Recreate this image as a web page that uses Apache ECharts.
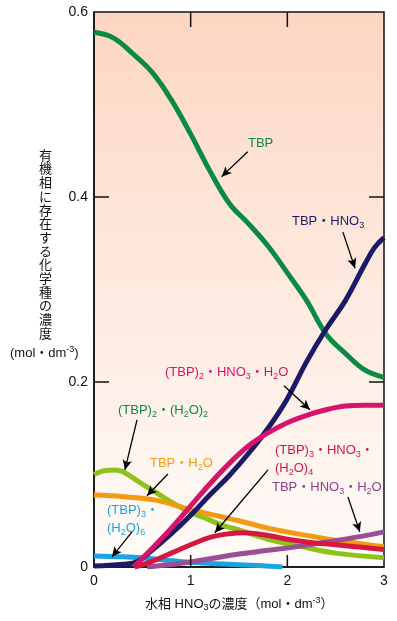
<!DOCTYPE html>
<html>
<head>
<meta charset="utf-8">
<script src="https://cdn.jsdelivr.net/npm/echarts@6/dist/echarts.min.js"></script>
<style>
  html, body { margin: 0; padding: 0; background: #fff; }
  #chart { width: 397px; height: 621px; }
</style>
</head>
<body>
<div id="chart"></div>
<script>
// 水相 HNO3 濃度 (mol/dm3) に対する各化学種の濃度 [x, y]
var tbp = [[0, 0.578], [0.2, 0.572], [0.4, 0.555], [0.6, 0.535], [0.8, 0.505], [1.0, 0.468], [1.2, 0.428], [1.4, 0.393], [1.6, 0.371], [1.8, 0.347], [2.0, 0.318], [2.2, 0.288], [2.4, 0.252], [2.6, 0.231], [2.8, 0.213], [3.0, 0.205]];
var tbp2H2o2 = [[0, 0.100], [0.1, 0.104], [0.22, 0.105], [0.3, 0.103], [0.48, 0.091], [0.65, 0.080], [0.82, 0.069], [1.0, 0.059], [1.17, 0.052], [1.33, 0.045], [1.5, 0.040], [1.8, 0.030], [2.15, 0.022], [2.5, 0.015], [3.0, 0.010]];
var tbpH2o = [[0, 0.078], [0.3, 0.076], [0.65, 0.072], [1.0, 0.062], [1.33, 0.054], [1.5, 0.050], [1.8, 0.042], [2.15, 0.035], [2.5, 0.029], [3.0, 0.022]];
var tbp3H2o6 = [[0, 0.012], [0.3, 0.011], [0.6, 0.009], [1.0, 0.005], [1.4, 0.003], [1.7, 0.0015], [1.95, 0]];
var tbpHno3H2o = [[0.55, 0], [0.9, 0.004], [1.2, 0.009], [1.5, 0.014], [1.8, 0.018], [2.1, 0.022], [2.4, 0.027], [2.7, 0.032], [3.0, 0.038]];
var tbpHno3 = [[0, 0.001], [0.3, 0.003], [0.45, 0.006], [0.6, 0.018], [0.8, 0.036], [1.0, 0.056], [1.2, 0.078], [1.4, 0.099], [1.6, 0.123], [1.8, 0.150], [2.0, 0.182], [2.2, 0.222], [2.4, 0.257], [2.6, 0.288], [2.8, 0.327], [2.9, 0.345], [3.0, 0.356]];
var tbp2Hno3H2o = [[0.41, 0], [0.6, 0.02], [0.8, 0.042], [1.0, 0.066], [1.2, 0.09], [1.4, 0.112], [1.6, 0.131], [1.8, 0.145], [2.0, 0.156], [2.2, 0.164], [2.4, 0.170], [2.6, 0.174], [2.8, 0.175], [3.0, 0.175]];
var tbp3Hno3H2o4 = [[0.42, 0], [0.6, 0.006], [0.8, 0.015], [1.0, 0.024], [1.2, 0.032], [1.4, 0.036], [1.55, 0.037], [1.8, 0.034], [2.0, 0.030], [2.2, 0.027], [2.5, 0.024], [2.8, 0.021], [3.0, 0.019]];

var xTicks = [0, 1, 2, 3];
var yTicks = [0, 0.2, 0.4, 0.6];

// 矢印 (始点, 終点) データ座標
var arrows = [
    [[1.59, 0.449], [1.32, 0.422]],
    [[2.575, 0.362], [2.70, 0.323]],
    [[1.965, 0.196], [2.234, 0.170]],
    [[0.445, 0.159], [0.32, 0.105]],
    [[0.765, 0.1005], [0.548, 0.077]],
    [[0.393, 0.038], [0.186, 0.011]],
    [[1.80, 0.105], [1.25, 0.037]],
    [[2.627, 0.0757], [2.75, 0.038]]
];

var FONT = '"Liberation Sans", "Noto Sans CJK JP", sans-serif';
var chart = echarts.init(document.getElementById('chart'));

function lineSeries(data, color) {
    return {
        type: 'line',
        data: data,
        smooth: 0.4,
        showSymbol: false,
        clip: true,
        z: 3,
        lineStyle: { color: color, width: 5 },
        silent: true
    };
}

var rich = {
    s: { fontSize: 9, lineHeight: 9, verticalAlign: 'bottom', fontFamily: FONT },
    p: { fontSize: 9, lineHeight: 9, verticalAlign: 'top', fontFamily: FONT }
};

function label(text, color, x, y, lh) {
    return {
        type: 'text',
        left: x,
        top: y,
        style: {
            text: text,
            fill: color,
            font: '13px ' + FONT,
            lineHeight: lh || 17,
            rich: rich
        },
        z: 100
    };
}

// 四辺の内向き目盛: [x, y, 向き] 0=下 1=上 2=左 3=右
var tickData = [];
xTicks.slice(1, -1).forEach(function (v) {
    tickData.push([v, yTicks[0], 0]);
    tickData.push([v, yTicks[yTicks.length - 1], 1]);
});
yTicks.slice(1, -1).forEach(function (v) {
    tickData.push([xTicks[0], v, 2]);
    tickData.push([xTicks[xTicks.length - 1], v, 3]);
});

var series = [
    lineSeries(tbp, '#0b8a43'),
    lineSeries(tbp2H2o2, '#8cc21a'),
    lineSeries(tbpH2o, '#f39a12'),
    lineSeries(tbp3H2o6, '#1aa5e0'),
    lineSeries(tbpHno3H2o, '#9a4e96'),
    lineSeries(tbpHno3, '#1c1a66'),
    lineSeries(tbp2Hno3H2o, '#d6146a'),
    lineSeries(tbp3Hno3H2o4, '#d6173f'),
    {
        type: 'line',
        data: [],
        silent: true,
        z: 6,
        markLine: {
            silent: true,
            symbol: ['none', 'arrow'],
            symbolSize: [7, 10],
            label: { show: false },
            lineStyle: { color: '#000', width: 1.3, type: 'solid' },
            data: arrows.map(function (a) {
                return [{ coord: a[0] }, { coord: a[1] }];
            })
        }
    },
    {
        type: 'custom',
        data: tickData,
        silent: true,
        clip: false,
        z: 10,
        encode: { x: 0, y: 1 },
        renderItem: function (params, api) {
            var p = api.coord([api.value(0), api.value(1)]);
            var dir = api.value(2);
            var dx = 0, dy = 0;
            if (dir === 0) dy = -12;
            else if (dir === 1) dy = 15;
            else if (dir === 2) dx = 15;
            else dx = -15;
            return {
                type: 'line',
                shape: { x1: p[0], y1: p[1], x2: p[0] + dx, y2: p[1] + dy },
                style: { stroke: '#111', lineWidth: 1.5 }
            };
        }
    }
];

var yTitleChars = '有機相に存在する化学種の濃度'.split('').join('\n');

var option = {
    animation: false,
    backgroundColor: '#fff',
    grid: {
        left: 94, top: 12, right: 13, bottom: 54,
        show: true,
        borderWidth: 1.5,
        borderColor: '#111',
        backgroundColor: new echarts.graphic.LinearGradient(0, 0, 0, 1, [
            { offset: 0, color: '#fdd6c2' },
            { offset: 0.45, color: '#fee8dd' },
            { offset: 1, color: '#fffbf8' }
        ])
    },
    xAxis: {
        type: 'value', min: 0, max: 3, interval: 1,
        axisLine: { show: true, onZero: false, lineStyle: { color: '#111', width: 1.5 } },
        axisTick: { show: false },
        splitLine: { show: false },
        axisLabel: { color: '#111', fontSize: 14, fontFamily: FONT, margin: 7 }
    },
    yAxis: {
        type: 'value', min: 0, max: 0.6, interval: 0.2,
        axisLine: { show: true, onZero: false, lineStyle: { color: '#111', width: 1.5 } },
        axisTick: { show: false },
        splitLine: { show: false },
        axisLabel: { color: '#111', fontSize: 14, fontFamily: FONT, margin: 6,
            formatter: function (v) { return v === 0 ? '0' : v.toFixed(1); } }
    },
    series: series,
    graphic: [
        {
            type: 'text', left: 39, top: 148,
            style: { text: yTitleChars, fill: '#111', font: '13px "Noto Sans CJK JP", sans-serif', lineHeight: 13.7 }
        },
        {
            type: 'text', left: 10, top: 345,
            style: { text: '(mol・dm{p|-3})', fill: '#111', font: '13px ' + FONT, lineHeight: 16, rich: rich }
        },
        {
            type: 'text', left: 145, top: 596,
            style: { text: '水相 HNO{s|3}の濃度（mol・dm{p|-3}）', fill: '#111', font: '13px ' + FONT, lineHeight: 16, rich: rich }
        },
        label('TBP', '#0b8a43', 248, 135),
        label('TBP・HNO{s|3}', '#1c1a66', 292, 213),
        label('(TBP){s|2}・HNO{s|3}・H{s|2}O', '#d6146a', 165, 364),
        label('(TBP){s|2}・(H{s|2}O){s|2}', '#0b8a43', 118, 402),
        label('TBP・H{s|2}O', '#f39a12', 150, 455),
        label('(TBP){s|3}・\n(H{s|2}O){s|6}', '#1aa5e0', 107, 501, 18),
        label('(TBP){s|3}・HNO{s|3}・\n(H{s|2}O){s|4}', '#d6173f', 275, 441, 18),
        label('TBP・HNO{s|3}・H{s|2}O', '#8e3f8c', 272, 479)
    ]
};

chart.setOption(option);
</script>
</body>
</html>
